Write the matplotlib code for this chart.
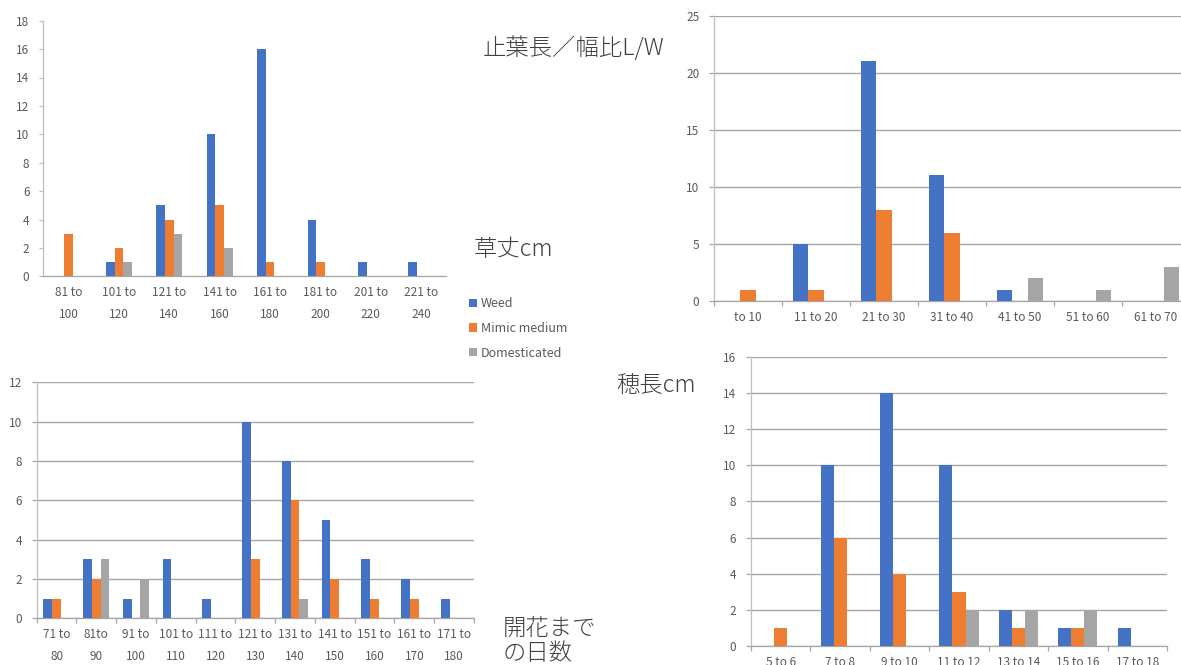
import matplotlib
matplotlib.use("Agg")
import matplotlib.pyplot as plt
import numpy as np

plt.rcParams["font.family"] = ["Noto Sans CJK JP", "DejaVu Sans"]

SERIES = ["Weed", "Mimic medium", "Domesticated"]
COLORS = ["#4472C4", "#ED7D31", "#A5A5A5"]
TEXT = "#595959"
TITLE = "#404040"
GRID = "#A6A6A6"
AXIS = "#BFBFBF"

# 草丈cm
height_bins = ["81 to\n100", "101 to\n120", "121 to\n140", "141 to\n160",
               "161 to\n180", "181 to\n200", "201 to\n220", "221 to\n240"]
height_weed = [0, 1, 5, 10, 16, 4, 1, 1]
height_mimic = [3, 2, 4, 5, 1, 1, 0, 0]
height_dom = [0, 1, 3, 2, 0, 0, 0, 0]

# 止葉長／幅比 L/W
ratio_bins = ["to 10", "11 to 20", "21 to 30", "31 to 40", "41 to 50", "51 to 60", "61 to 70"]
ratio_weed = [0, 5, 21, 11, 1, 0, 0]
ratio_mimic = [1, 1, 8, 6, 0, 0, 0]
ratio_dom = [0, 0, 0, 0, 2, 1, 3]

# 開花までの日数
days_bins = ["71 to\n80", "81to\n90", "91 to\n100", "101 to\n110", "111 to\n120",
             "121 to\n130", "131 to\n140", "141 to\n150", "151 to\n160",
             "161 to\n170", "171 to\n180"]
days_weed = [1, 3, 1, 3, 1, 10, 8, 5, 3, 2, 1]
days_mimic = [1, 2, 0, 0, 0, 3, 6, 2, 1, 1, 0]
days_dom = [0, 3, 2, 0, 0, 0, 1, 0, 0, 0, 0]

# 穂長cm
panicle_bins = ["5 to 6", "7 to 8", "9 to 10", "11 to 12", "13 to 14", "15 to 16", "17 to 18"]
panicle_weed = [0, 10, 14, 10, 2, 1, 1]
panicle_mimic = [1, 6, 4, 3, 1, 1, 0]
panicle_dom = [0, 0, 0, 2, 2, 2, 0]

W, H = 1181, 665
fig = plt.figure(figsize=(W / 100, H / 100), dpi=100)


def px_axes(x0, x1, y0, y1):
    """Axes placed by pixel box (y measured from the top)."""
    return fig.add_axes([x0 / W, 1 - y1 / H, (x1 - x0) / W, (y1 - y0) / H])


def draw_panel(ax, bins, counts, ymax, ystep, bar_w, grid=True):
    x = np.arange(len(bins))
    for i, (vals, color) in enumerate(zip(counts, COLORS)):
        ax.bar(x + (i - 1) * bar_w, vals, width=bar_w, color=color,
               linewidth=0, zorder=3, label=SERIES[i])
    ax.set_xlim(-0.5, len(bins) - 0.5)
    ax.set_ylim(0, ymax)
    ax.set_yticks(np.arange(0, ymax + 1, ystep))
    ax.set_xticks(x)
    ax.set_xticklabels(bins, linespacing=1.9)
    ax.tick_params(axis="x", which="major", length=0, pad=7,
                   labelsize=8.5, labelcolor=TEXT)
    ax.tick_params(axis="y", width=0.9, pad=7, labelsize=8.5, labelcolor=TEXT)
    for s in ("top", "right"):
        ax.spines[s].set_visible(False)
    ax.spines["left"].set_color(AXIS)
    ax.spines["left"].set_linewidth(0.9)
    ax.spines["bottom"].set_color(GRID)
    ax.spines["bottom"].set_linewidth(0.9)
    if grid:
        ax.yaxis.grid(True, color=GRID, linewidth=1.0)
        ax.set_axisbelow(True)
        ax.tick_params(axis="y", length=3.6, color=GRID)
        ax.set_xticks(np.arange(len(bins) + 1) - 0.5, minor=True)
        ax.tick_params(axis="x", which="minor", length=3.6, width=0.9, color=GRID)
    else:
        ax.tick_params(axis="y", length=3, color=AXIS)


ax_tl = px_axes(43.3, 446.5, 20.7, 276.3)
draw_panel(ax_tl, height_bins, [height_weed, height_mimic, height_dom], 18, 2, 0.17, grid=False)

ax_tr = px_axes(714, 1190, 15.7, 301)
draw_panel(ax_tr, ratio_bins, [ratio_weed, ratio_mimic, ratio_dom], 25, 5, 0.23)

ax_bl = px_axes(36.7, 474, 382.3, 618.3)
draw_panel(ax_bl, days_bins, [days_weed, days_mimic, days_dom], 12, 2, 0.22)

ax_br = px_axes(751, 1167, 356.7, 646)
draw_panel(ax_br, panicle_bins, [panicle_weed, panicle_mimic, panicle_dom], 16, 2, 0.22)

handles, labels = ax_tl.get_legend_handles_labels()
fig.legend(handles, labels, loc="upper left", bbox_to_anchor=(469 / W, 1 - 297 / H),
           frameon=False, fontsize=9, labelcolor=TEXT, handlelength=0.62,
           handleheight=0.62, handletextpad=0.35, labelspacing=0.95,
           borderaxespad=0, borderpad=0)


def panel_title(x, y, s):
    fig.text(x / W, 1 - y / H, s, ha="left", va="center", fontsize=16.8,
             color=TITLE, fontweight="light", linespacing=1.0)


panel_title(483, 48, "止葉長／幅比L/W")
panel_title(474, 250, "草丈cm")
panel_title(616, 385, "穂長cm")
panel_title(503, 641, "開花まで\nの日数")

fig.savefig("out.png", dpi=100)
